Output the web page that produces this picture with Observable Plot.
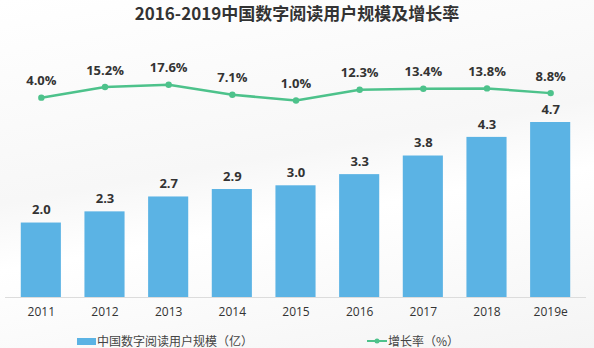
<!DOCTYPE html>
<html>
<head>
<meta charset="utf-8">
<script src="https://cdn.jsdelivr.net/npm/d3@7"></script>
<script src="https://cdn.jsdelivr.net/npm/@observablehq/plot@0.6"></script>
<style>
  html, body { margin: 0; padding: 0; background: #fff; }
  #wrap { position: relative; width: 594px; height: 348px; overflow: hidden;
    background: linear-gradient(170deg, #ffffff 0%, #f7f7f7 45%, #ffffff 60%, #f4f4f4 100%); }
  #title { position: absolute; top: 0; left: 0; width: 594px; text-align: center;
    font: bold 17px "Noto Sans CJK SC", "Open Sans", sans-serif; line-height: 26px; color: #333; }
  .layer { position: absolute; top: 28px; left: 0; }
  .layer svg { background: transparent !important; }
  #legend { position: absolute; top: 334px; left: 0; width: 594px; height: 14px;
    font: 12px/14px "Noto Sans CJK SC", sans-serif; color: #444; }
  .lg { position: absolute; top: 0; display: flex; align-items: center; height: 14px; line-height: 14px; white-space: nowrap; }
</style>
</head>
<body>
<div id="wrap">
  <div id="title"></div>
  <div class="layer" id="bars"></div>
  <div class="layer" id="line"></div>
  <div id="legend"></div>
</div>
<script>
const titleText = "2016-2019中国数字阅读用户规模及增长率";
const years = ["2011", "2012", "2013", "2014", "2015", "2016", "2017", "2018", "2019e"];
const users = [2.0, 2.3, 2.7, 2.9, 3.0, 3.3, 3.8, 4.3, 4.7];
const growth = [4.0, 15.2, 17.6, 7.1, 1.0, 12.3, 13.4, 13.8, 8.8];
const seriesNames = ["中国数字阅读用户规模（亿）", "增长率（%）"];

const barColor = "#5BB3E4";
const lineColor = "#4DC28B";
const textColor = "#333";
const data = years.map((y, i) => ({year: y, users: users[i], growth: growth[i]}));

document.getElementById("title").textContent = titleText;

const W = 594, H = 300;
const xScale = {domain: years, paddingInner: 0.37, paddingOuter: 0.185, round: false};
const common = {width: W, height: H, marginLeft: 9, marginRight: 12,
  style: {background: "transparent", fontFamily: "'Open Sans', sans-serif", color: textColor}};

const bars = Plot.plot({
  ...common,
  marginTop: 94, marginBottom: 31,
  x: {...xScale, label: null, tickSize: 0, tickPadding: 10},
  y: {domain: [0, 4.7], axis: null},
  marks: [
    Plot.barY(data, {x: "year", y: "users", fill: barColor}),
    Plot.text(data, {x: "year", y: "users", text: d => d.users.toFixed(1), dy: -13,
      fontSize: 13, fontWeight: "bold", fill: textColor}),
    Plot.ruleY([0], {stroke: "#dcdcdc", strokeWidth: 1, insetLeft: -4, insetRight: -4}),
    Plot.axisX({tickSize: 0, tickPadding: 10, fontSize: 12, fill: textColor, label: null})
  ]
});
document.getElementById("bars").appendChild(bars);

const line = Plot.plot({
  ...common,
  marginTop: 0, marginBottom: 31,
  x: {...xScale, axis: null},
  y: {domain: [1, 17.6], range: [72, 56.3], axis: null},
  marks: [
    Plot.line(data, {x: "year", y: "growth", stroke: lineColor, strokeWidth: 2.5}),
    Plot.dot(data, {x: "year", y: "growth", fill: lineColor, r: 3.2}),
    Plot.text(data, {x: "year", y: "growth", text: d => d.growth.toFixed(1) + "%", dy: -16.5,
      fontSize: 13, fontWeight: "bold", fill: textColor})
  ]
});
document.getElementById("line").appendChild(line);

const lg = document.getElementById("legend");
lg.innerHTML = `
  <div class="lg" style="left:77px"><span style="display:inline-block;width:19px;height:7px;background:${barColor};margin-right:1px"></span>${seriesNames[0]}</div>
  <div class="lg" style="left:367px"><svg width="20" height="10" style="margin-right:1px"><line x1="0" y1="5" x2="20" y2="5" stroke="${lineColor}" stroke-width="2"/><circle cx="10" cy="5" r="2.5" fill="${lineColor}"/></svg>${seriesNames[1]}</div>`;
</script>
</body>
</html>
